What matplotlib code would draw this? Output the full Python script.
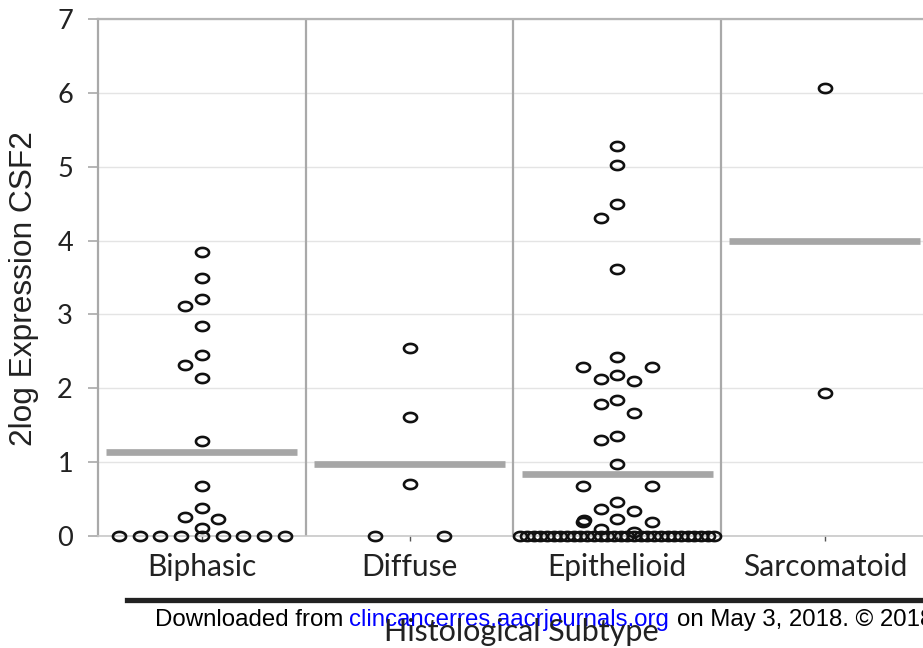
import matplotlib
matplotlib.use("Agg")
import matplotlib.pyplot as plt
import numpy as np
from matplotlib.path import Path
from matplotlib.lines import Line2D

# data
categories = ["Biphasic", "Diffuse", "Epithelioid", "Sarcomatoid"]
biphasic = [3.85, 3.50, 3.21, 3.12, 2.84, 2.45, 2.31, 2.14, 1.29, 0.68,
            0.38, 0.26, 0.23, 0.11,
            0, 0, 0, 0, 0, 0, 0, 0, 0]
diffuse = [2.54, 1.61, 0.70, 0, 0]
epithelioid = [5.28, 5.02, 4.49, 4.31, 3.62, 2.43, 2.29, 2.29, 2.18, 2.13,
               2.10, 1.84, 1.79, 1.66, 1.36, 1.30, 0.98, 0.68, 0.68, 0.46,
               0.37, 0.34, 0.23, 0.22, 0.19, 0.19, 0.10, 0.06,
               0, 0, 0, 0, 0, 0, 0, 0, 0, 0, 0, 0, 0, 0, 0,
               0, 0, 0, 0, 0, 0, 0, 0, 0, 0, 0, 0, 0, 0, 0]
sarcomatoid = [6.07, 1.94]
group_means = [1.14, 0.97, 0.84, 3.99]
y_ticks = [0, 1, 2, 3, 4, 5, 6, 7]

groups = [biphasic, diffuse, epithelioid, sarcomatoid]

W, H = 923, 648
fig = plt.figure(figsize=(W / 100, H / 100), dpi=100)

# axes box in pixels: left 98, y=0 at 536, y=7 at 19, panel width ~207.7
panel_px = 207.7
ax = fig.add_axes([98 / W, (H - 536) / H, 4 * panel_px / W, 517 / H])
ax.set_xlim(0, 4)
ax.set_ylim(0, 7)

grey = "#a9a9a9"
ax.spines["right"].set_visible(False)
ax.spines["left"].set_color(grey)
ax.spines["left"].set_linewidth(1.6)
ax.spines["top"].set_color("#b4b4b4")
ax.spines["top"].set_linewidth(1.6)
ax.spines["bottom"].set_color("#c8c8c8")
ax.spines["bottom"].set_linewidth(1.2)

# light horizontal grid and the panel separators
ax.set_yticks(y_ticks)
ax.yaxis.grid(True, color="#e4e4e4", linewidth=1.0, zorder=0)
ax.set_axisbelow(True)
for i in range(1, len(categories)):
    ax.axvline(i, color=grey, linewidth=1.6, zorder=1)

ax.tick_params(axis="y", direction="out", length=7, width=1.2, color=grey,
               pad=11, labelsize=19.5)
ax.tick_params(axis="x", direction="out", length=3.5, width=1.0,
               color="#555555", pad=9, labelsize=21.5)
ax.set_xticks(np.arange(len(categories)) + 0.5)
ax.set_xticklabels(categories)
for lab in ax.get_xticklabels() + ax.get_yticklabels():
    lab.set_fontfamily("Lato")
    lab.set_color("#222222")

# open elliptical marker (the source image is slightly squashed)
t = np.linspace(0, 2 * np.pi, 60)
ellipse = Path(np.column_stack([np.cos(t), 0.70 * np.sin(t)]), closed=True)


def swarm_offsets(values, px_x, px_y, step=16.5, w=15.0, h=14.0):
    values = np.asarray(values, float)
    offs = np.zeros(len(values))
    uniq, counts = np.unique(values, return_counts=True)
    cnt = dict(zip(uniq, counts))
    # tied values spread evenly over the panel
    for v, n in cnt.items():
        if n > 1:
            idx = np.where(values == v)[0]
            for k, i in enumerate(idx):
                offs[i] = (k + 1) / (n + 1) - 0.5
    placed = []
    for i in np.argsort(-values, kind="stable"):
        if cnt[values[i]] > 1:
            continue
        y = values[i] * px_y
        x = 0.0
        for k in [0, -1, 1, -2, 2, -3, 3]:
            x = k * step
            if all(((x - qx) / w) ** 2 + ((y - qy) / h) ** 2 >= 1 for qx, qy in placed):
                break
        placed.append((x, y))
        offs[i] = x / px_x
    return offs


px_y = 517 / 7
for i, vals in enumerate(groups):
    centre = i + 0.5
    ax.plot([centre - 0.46, centre + 0.46], [group_means[i]] * 2,
            color="#a6a6a6", linewidth=4.8, solid_capstyle="butt", zorder=2)
    offs = swarm_offsets(vals, panel_px, px_y)
    ax.plot(centre + offs, vals, linestyle="none", marker=ellipse,
            markersize=9.4, markerfacecolor="none", markeredgecolor="#111111",
            markeredgewidth=1.9, zorder=3, clip_on=False)

# axis titles
fig.text(24 / W, 1 - 289 / H, "2log Expression CSF2", rotation=90,
         ha="center", va="center", fontsize=22.8, family="Liberation Sans",
         color="#222222")

# footer rule and watermark line of the source page
fig.add_artist(Line2D([127 / W, 1.0], [1 - 600 / H] * 2, transform=fig.transFigure,
                      color="#222222", linewidth=3.8))
fig.text(155 / W, 1 - 626 / H, "Downloaded from", fontsize=17.3,
         family="Liberation Sans", color="black", va="baseline")
fig.text(349 / W, 1 - 626 / H, "clincancerres.aacrjournals.org", fontsize=17.3,
         family="Liberation Sans", color="#0000ff", va="baseline")
fig.text(677 / W, 1 - 626 / H, "on May 3, 2018. \u00a9 2018",
         fontsize=17.3, family="Liberation Sans", color="black", va="baseline")
fig.text(521 / W, 1 - 641 / H, "Histological Subtype", ha="center",
         va="baseline", fontsize=22, family="Lato", color="#222222")

fig.savefig("out.png", dpi=100)
